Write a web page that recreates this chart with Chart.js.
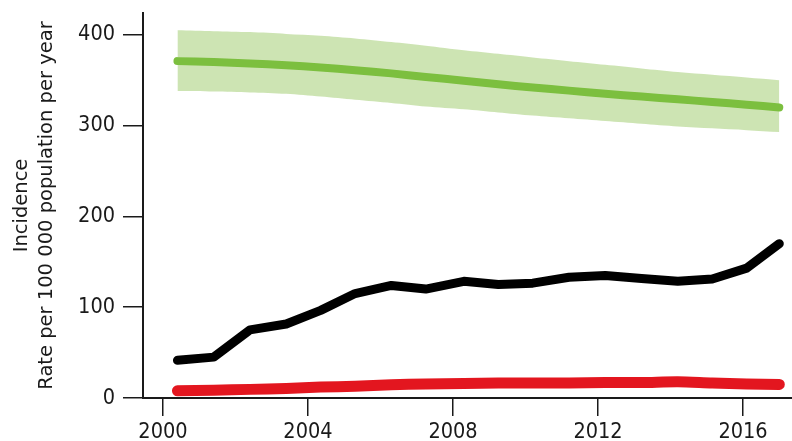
<!DOCTYPE html>
<html>
<head>
<meta charset="utf-8">
<script src="https://cdn.jsdelivr.net/npm/chart.js@4.4.0/dist/chart.umd.min.js"></script>
<style>
  body { margin: 0; background: #fff; }
  #wrap { width: 792px; height: 441px; }
</style>
</head>
<body>
<div id="wrap"><canvas id="myChart"></canvas></div>
<script>
// values
const years = [2000.4, 2001.4, 2002.4, 2003.4, 2004.35, 2005.3, 2006.3, 2007.25, 2008.3,
               2009.25, 2010.2, 2011.2, 2012.2, 2013.2, 2014.2, 2015.15, 2016.1, 2017.0];
const blackLine = [41.5, 45, 75, 81.5, 96.5, 115, 124, 120, 128.5, 125, 126.5, 133, 135, 131.5, 128.5, 131, 143, 170];
const greenLine = [371, 370, 368.5, 366.5, 364, 361, 357.5, 353.5, 349.5, 345.5, 342, 338.5, 335, 332, 329, 326, 323, 320];
const greenUpper = [405, 404, 403, 401, 399, 396, 392, 388, 383, 379, 375, 371, 367, 363, 359, 356, 353, 350];
const greenLower = [338, 337.5, 336.5, 335, 332, 328.5, 325, 321, 318, 314.5, 311, 308, 305, 302, 299, 297, 295, 293];
const redLine = [8, 8.5, 9.5, 10.5, 12, 13, 14.5, 15.5, 16, 16.5, 16.5, 16.5, 17, 17, 18, 16.5, 15.5, 15];
const redUpper = [10, 10.5, 11.5, 12.5, 14, 15.5, 17, 18.5, 19, 19.5, 19.5, 19.5, 20, 20, 21, 19.5, 18.5, 18];
const redLower = [6, 6.5, 7.5, 8.5, 10, 11, 12, 13, 13.5, 14, 14, 14, 14.5, 14.5, 15.5, 14, 13, 12.5];
const xTicks = [2000, 2004, 2008, 2012, 2016];
const yTicks = [0, 100, 200, 300, 400];

const pts = arr => arr.map((v, i) => ({ x: years[i], y: v }));
const tickFont = 'DejaVu Sans Condensed, DejaVu Sans, sans-serif';
const titleFont = 'DejaVu Sans, sans-serif';
const ink = '#1a1a1a';

const lineStyle = (color, width, order, tension) => ({
    borderColor: color,
    borderWidth: width,
    pointRadius: 0,
    fill: false,
    tension: tension,
    borderCapStyle: 'round',
    borderJoinStyle: 'round',
    order: order
});

const bandEdge = (fillTarget, color, order) => ({
    borderWidth: 0,
    borderColor: 'transparent',
    backgroundColor: color,
    pointRadius: 0,
    tension: 0.3,
    fill: fillTarget,
    order: order
});

const ctx = document.getElementById('myChart');

new Chart(ctx, {
    type: 'line',
    data: {
        datasets: [
            Object.assign({ label: 'green upper', data: pts(greenUpper) }, bandEdge('+1', 'rgba(196, 223, 166, 0.85)', 10)),
            Object.assign({ label: 'green lower', data: pts(greenLower) }, bandEdge(false, 'transparent', 10)),
            Object.assign({ label: 'red upper', data: pts(redUpper) }, bandEdge('+1', 'rgba(240, 140, 130, 0.55)', 9)),
            Object.assign({ label: 'red lower', data: pts(redLower) }, bandEdge(false, 'transparent', 9)),
            Object.assign({ label: 'green', data: pts(greenLine) }, lineStyle('#7cbf3f', 8, 3, 0.3)),
            Object.assign({ label: 'black', data: pts(blackLine) }, lineStyle('#000000', 9, 2, 0)),
            Object.assign({ label: 'red', data: pts(redLine) }, lineStyle('#e3161f', 11, 1, 0.3))
        ]
    },
    options: {
        responsive: true,
        maintainAspectRatio: false,
        animation: false,
        layout: { padding: 0 },
        plugins: {
            legend: { display: false },
            tooltip: { enabled: false }
        },
        scales: {
            x: {
                type: 'linear',
                min: 1999.45,
                max: 2017.35,
                afterBuildTicks: axis => { axis.ticks = xTicks.map(v => ({ value: v })); },
                ticks: {
                    color: ink,
                    font: { family: tickFont, size: 21.5 },
                    padding: 4,
                    maxRotation: 0,
                    callback: v => String(v)
                },
                grid: {
                    drawOnChartArea: false,
                    drawTicks: true,
                    tickLength: 18,
                    color: ink,
                    lineWidth: 1.5
                },
                border: { display: true, color: ink, width: 2 },
                afterFit: s => { s.height = 43; }
            },
            y: {
                min: 0,
                max: 424,
                afterBuildTicks: axis => { axis.ticks = yTicks.map(v => ({ value: v })); },
                ticks: {
                    color: ink,
                    font: { family: tickFont, size: 21.5 },
                    padding: 8
                },
                grid: {
                    drawOnChartArea: false,
                    drawTicks: true,
                    tickLength: 20,
                    color: ink,
                    lineWidth: 1.5
                },
                border: { display: true, color: ink, width: 2 },
                title: {
                    display: true,
                    text: ['Incidence', 'Rate per 100 000 population per year'],
                    color: ink,
                    font: { family: titleFont, size: 19.5, lineHeight: 1.25 },
                    padding: { top: 10, bottom: 0 }
                },
                afterFit: s => { s.width = 143; s.paddingTop = 13; }
            }
        }
    }
});
</script>
</body>
</html>
